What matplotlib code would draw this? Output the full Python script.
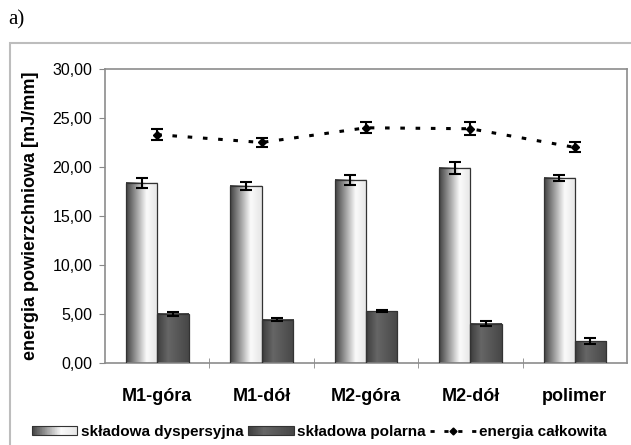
import numpy as np
import matplotlib
matplotlib.use("Agg")
import matplotlib.pyplot as plt
from matplotlib.patches import Rectangle
from matplotlib.lines import Line2D
from matplotlib.legend_handler import HandlerBase

plt.rcParams["font.family"] = ["Liberation Sans", "DejaVu Sans"]

# Dane: energia powierzchniowa i jej składowe [mJ/m2]
probki = ["M1-góra", "M1-dół", "M2-góra", "M2-dół", "polimer"]
dyspersyjna = [18.4, 18.1, 18.7, 19.9, 18.9]
dyspersyjna_err = [0.5, 0.4, 0.5, 0.6, 0.3]
polarna = [5.0, 4.4, 5.3, 4.0, 2.2]
polarna_err = [0.2, 0.15, 0.1, 0.25, 0.3]
calkowita = [23.3, 22.5, 24.0, 23.9, 22.0]
calkowita_err = [0.55, 0.45, 0.55, 0.65, 0.5]
yticks = [0, 5, 10, 15, 20, 25, 30]

# profile szarości gradientów słupków (od lewej do prawej)
grad_dysp = np.interp(np.linspace(0, 1, 64), [0, 0.15, 0.65, 1.0], [0.26, 0.42, 0.98, 0.9])
grad_pol = np.interp(np.linspace(0, 1, 64), [0, 0.35, 1.0], [0.24, 0.4, 0.28])


def gradient_bar(ax, x, h, w, profile):
    img = np.tile(profile, (2, 1))
    ax.imshow(img, cmap="gray", vmin=0, vmax=1, aspect="auto",
              extent=(x - w / 2, x + w / 2, 0, h), zorder=2, interpolation="bilinear")
    ax.add_patch(Rectangle((x - w / 2, 0), w, h, fill=False,
                           edgecolor="#333333", lw=0.9, zorder=3))


class GradientHandler(HandlerBase):
    def __init__(self, profile):
        super().__init__()
        self.profile = profile

    def create_artists(self, legend, orig_handle, xdescent, ydescent,
                       width, height, fontsize, trans):
        n = len(self.profile)
        arts = []
        for i, g in enumerate(self.profile):
            arts.append(Rectangle((-xdescent + width * i / n, -ydescent + height * 0.1),
                                  width / n + 0.3, height * 0.8, facecolor=str(g),
                                  edgecolor="none", transform=trans))
        arts.append(Rectangle((-xdescent, -ydescent + height * 0.1), width, height * 0.8,
                              fill=False, edgecolor="#333333", lw=0.8, transform=trans))
        return arts


fig = plt.figure(figsize=(6.31, 4.45), dpi=100)
ax = fig.add_axes([0.1664, 0.1843, 0.8273, 0.6607])

# zewnętrzna ramka wykresu
fig.patches.append(Rectangle((10 / 631, -0.1), 1.1, 1 - 43 / 445 + 0.1, transform=fig.transFigure,
                             fill=False, edgecolor="#bdbdbd", lw=1.5))
fig.text(8 / 631, 1 - 20 / 445, "a)", family="Liberation Serif", fontsize=15, va="center")

x = np.arange(len(probki))
w = 0.3
for i in x:
    gradient_bar(ax, i - w / 2, dyspersyjna[i], w, grad_dysp)
    gradient_bar(ax, i + w / 2, polarna[i], w, grad_pol)

err_kw = dict(fmt="none", ecolor="black", elinewidth=1.5, capsize=4, capthick=1.5, zorder=4)
ax.errorbar(x - w / 2, dyspersyjna, yerr=dyspersyjna_err, **err_kw)
ax.errorbar(x + w / 2, polarna, yerr=polarna_err, **err_kw)
ax.errorbar(x, calkowita, yerr=calkowita_err, fmt="D", color="black", ms=4,
            ls=(0, (1.5, 3.5)), lw=2.2, elinewidth=1.5, capsize=4, capthick=1.5, zorder=4)

ax.set_xlim(-0.5, len(probki) - 0.5)
ax.set_ylim(0, 30)
ax.set_yticks(yticks)
ax.set_yticklabels([f"{v:.2f}".replace(".", ",") for v in yticks], fontsize=11.5)
ax.set_xticks(x)
ax.set_xticklabels(probki, fontsize=13, fontweight="bold")
ax.tick_params(axis="x", length=0, pad=18)
ax.set_xticks(np.arange(0.5, len(probki) - 0.5, 1), minor=True)
ax.tick_params(axis="x", which="minor", length=7, direction="inout", color="#888888")
ax.tick_params(axis="y", length=4, color="#888888", pad=5)
for s in ax.spines.values():
    s.set_color("#8c8c8c")
    s.set_linewidth(1.2)

ax.set_ylabel("energia powierzchniowa [mJ/mm]", fontsize=13, fontweight="bold", labelpad=10)

h_d = Rectangle((0, 0), 1, 1)
h_p = Rectangle((0, 0), 1, 1)
h_c = Line2D([], [], color="black", marker="D", ms=3.5, ls=(0, (1.5, 3.5)), lw=2)
fig.legend([h_d, h_p, h_c], ["składowa dyspersyjna", "składowa polarna", "energia całkowita"],
           handler_map={h_d: GradientHandler(grad_dysp), h_p: GradientHandler(grad_pol)},
           loc="center left", bbox_to_anchor=(24 / 631, 1 - 432 / 445), ncol=3, frameon=False,
           prop=dict(size=11, weight="bold"), handlelength=3.0, handletextpad=0.2,
           columnspacing=0.3, borderpad=0)

fig.savefig("out.png", dpi=100)
